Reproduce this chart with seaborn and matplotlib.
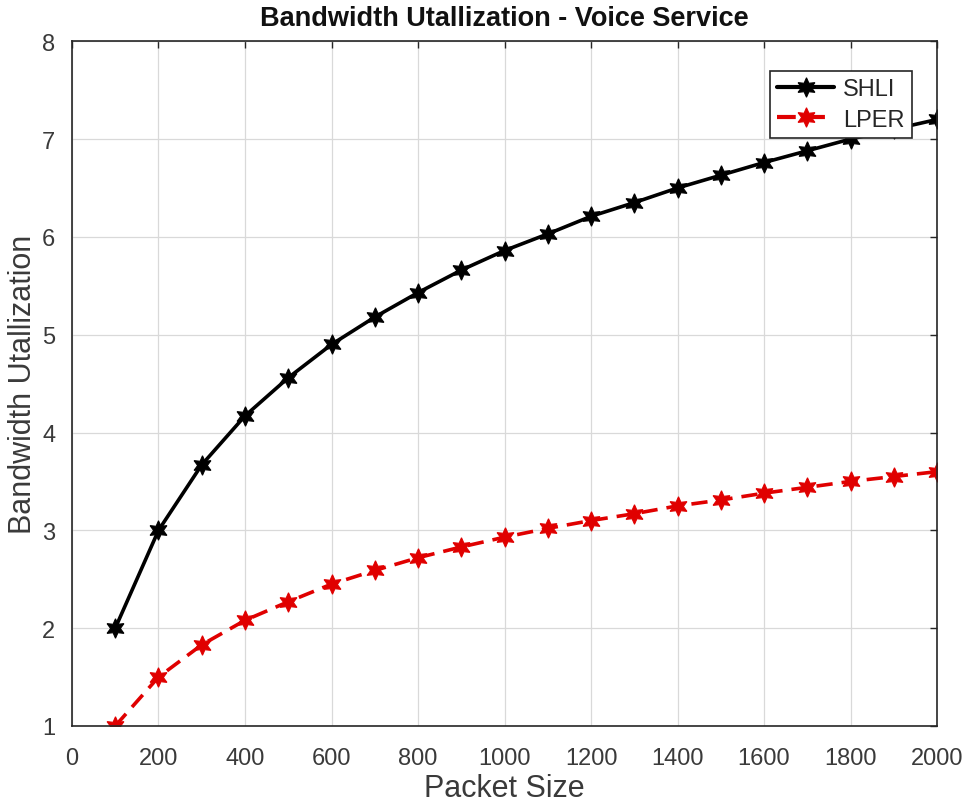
import matplotlib
matplotlib.use("Agg")
import matplotlib.pyplot as plt
import seaborn as sns
import pandas as pd

packet_size = [100, 200, 300, 400, 500, 600, 700, 800, 900, 1000,
               1100, 1200, 1300, 1400, 1500, 1600, 1700, 1800, 1900, 2000]
shli = [2.00, 3.00, 3.67, 4.17, 4.56, 4.90, 5.18, 5.43, 5.66, 5.86,
        6.03, 6.21, 6.35, 6.50, 6.63, 6.76, 6.88, 7.00, 7.10, 7.20]
lper = [1.00, 1.50, 1.83, 2.08, 2.27, 2.45, 2.59, 2.72, 2.83, 2.93,
        3.02, 3.10, 3.17, 3.25, 3.31, 3.38, 3.44, 3.50, 3.55, 3.60]
x_ticks = [0, 200, 400, 600, 800, 1000, 1200, 1400, 1600, 1800, 2000]
y_ticks = [1, 2, 3, 4, 5, 6, 7, 8]

df = pd.DataFrame({
    "Packet Size": packet_size * 2,
    "Bandwidth Utallization": shli + lper,
    "Scheme": ["SHLI"] * len(shli) + ["LPER"] * len(lper),
})

sns.set_theme(style="white")
plt.rcParams["font.family"] = ["Liberation Sans", "DejaVu Sans"]

fig = plt.figure(figsize=(9.69, 8.12), dpi=100)
ax = fig.add_axes([0.0743, 0.1047, 0.8927, 0.8433])

star = (6, 1, 0)
colors = {"SHLI": "black", "LPER": "#e00000"}
sns.lineplot(data=df, x="Packet Size", y="Bandwidth Utallization", hue="Scheme",
             style="Scheme", palette=colors,
             dashes={"SHLI": "", "LPER": (4.5, 2.5)},
             markers={"SHLI": star, "LPER": star},
             markersize=14, linewidth=2.6, markeredgewidth=0.8, ax=ax)
for ln, c in zip(ax.get_lines()[:2], colors.values()):
    ln.set_markeredgecolor(c)

ax.set_xlim(0, 2000)
ax.set_ylim(1, 8)
ax.set_xticks(x_ticks)
ax.set_yticks(y_ticks)
ax.grid(True, color="#d9d9d9", linewidth=0.9)
ax.set_axisbelow(True)
for s in ax.spines.values():
    s.set_color("#262626")
    s.set_linewidth(1.2)
ax.tick_params(direction="in", top=True, right=True, length=5, width=1,
               color="#262626", labelsize=17, labelcolor="#3a3a3a")
ax.tick_params(axis="x", pad=15)
ax.tick_params(axis="y", pad=12)
ax.set_xlabel("Packet Size", fontsize=22, color="#3a3a3a", labelpad=3)
ax.set_ylabel("Bandwidth Utallization", fontsize=22, color="#3a3a3a", labelpad=3)
ax.set_title("Bandwidth Utallization - Voice Service", fontsize=19.5,
             fontweight="bold", color="#111111", pad=12)

leg = ax.legend(loc="upper right", bbox_to_anchor=(0.971, 0.956),
                borderaxespad=0, fontsize=17, frameon=True, fancybox=False,
                framealpha=1, facecolor="white", edgecolor="#262626",
                handlelength=2.4, handletextpad=0.4, borderpad=0.3,
                labelspacing=0.35)
leg.get_frame().set_linewidth(1.2)
leg.set_zorder(10)
for h, c in zip(leg.legend_handles, colors.values()):
    h.set_markersize(14)
    h.set_linewidth(3)
    h.set_markeredgecolor(c)

fig.savefig("out.png", dpi=100, facecolor="white")
